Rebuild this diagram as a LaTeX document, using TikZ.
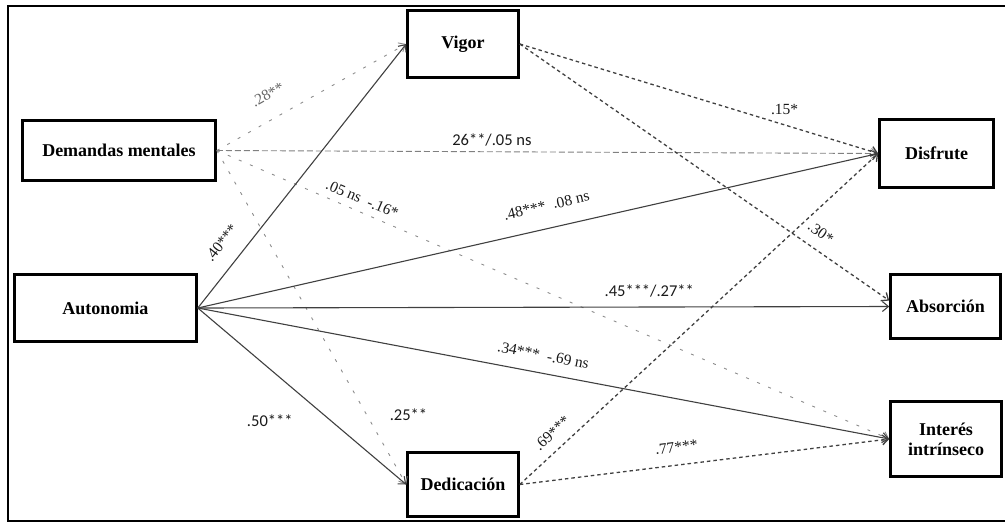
\documentclass[tikz,border=0pt]{standalone}
\usepackage{fontspec}
\setmainfont{Liberation Serif}
\newfontfamily\labsans{Carlito}
\usetikzlibrary{arrows.meta}
\begin{document}
\begin{tikzpicture}[x=1pt,y=-1pt,
  box/.style={draw=black, line width=2.6pt, fill=white, align=center,
    font=\fontsize{18}{20}\selectfont\bfseries, inner sep=0pt},
  tip/.style={-{Straight Barb[length=6pt,width=10pt]}},
  solidarr/.style={draw=black!75, line width=1.1pt, tip},
  dasharr/.style={draw=black!75, line width=1.3pt, dash pattern=on 3.5pt off 3pt, tip},
  faint/.style={draw=black!45, line width=0.9pt, dash pattern=on 3pt off 9pt, tip},
  fainth/.style={draw=black!50, line width=0.9pt, dash pattern=on 6pt off 3pt, tip},
  lab/.style={font=\fontsize{15.5}{17}\selectfont, text=black!90, inner sep=1pt},
  labsf/.style={font=\labsans\fontsize{16.5}{18}\selectfont, text=black!90, inner sep=1pt},
]
\useasboundingbox (0,0) rectangle (1005,523);
% outer frame (right side lies beyond the picture)
\draw[line width=2pt] (1008,6) -- (8,6) -- (8,521) -- (1008,521);

% boxes
\node[box, minimum width=193pt, minimum height=60pt] (dem) at (119,150.5) {Demandas mentales};
\node[box, minimum width=111pt, minimum height=67pt] (vig) at (463,44) {Vigor};
\node[box, minimum width=182pt, minimum height=67pt] (aut) at (105.5,308) {Autonomia};
\node[box, minimum width=111pt, minimum height=64pt] (ded) at (463,484.5) {Dedicación};
\node[box, minimum width=114pt, minimum height=68pt] (dis) at (936.5,153.5) {Disfrute};
\node[box, minimum width=110pt, minimum height=64pt] (absn) at (945.5,306.5) {Absorción};
\node[box, minimum width=111pt, minimum height=75pt] (int) at (946,439) {Interés\\intrínseco};

% faint paths from Demandas mentales
\draw[faint] (dem.east) -- node[lab, sloped, above=17pt, pos=0.33, text=black!60] {.28**} (vig.west);
\draw[fainth] (dem.east) -- node[labsf, pos=0.416, above=4pt] {26**/.05 ns} (dis.west);
\draw[faint] (dem.east) -- node[lab, sloped, above=6pt, pos=0.209] {.05 ns\ \ -.16*} (int.west);
\draw[faint] (dem.east) -- node[labsf, pos=0.79, xshift=42pt] {.25**} (ded.west);

% solid paths from Autonomia
\draw[solidarr] (aut.east) -- node[lab, sloped, above=15pt, pos=0.195] {.40***} (vig.west);
\draw[solidarr] (aut.east) -- node[lab, sloped, above=16pt, pos=0.52] {.48***\ \ .08 ns} (dis.west);
\draw[solidarr] (aut.east) -- node[labsf, pos=0.653, above=8pt] {.45***/.27**} (absn.west);
\draw[solidarr] (aut.east) -- node[lab, sloped, above=11pt, pos=0.495] {.34***\ \ -.69 ns} (int.west);
\draw[solidarr] (aut.east) -- node[labsf, pos=0.47, xshift=-26pt, yshift=-30pt] {.50***} (ded.west);

% dashed paths from Vigor and Dedicación
\draw[dasharr] (vig.east) -- node[lab, pos=0.739, above=9pt] {.15*} (dis.west);
\draw[dasharr] (vig.east) -- node[lab, sloped, pos=0.789, above=10pt] {.30*} (absn.174);
\draw[dasharr] (ded.east) -- node[lab, sloped, pos=0.12, above=9pt] {.69***} (dis.west);
\draw[dasharr] (ded.east) -- node[lab, sloped, pos=0.43, above=11pt] {.77***} (int.west);
\end{tikzpicture}
\end{document}
